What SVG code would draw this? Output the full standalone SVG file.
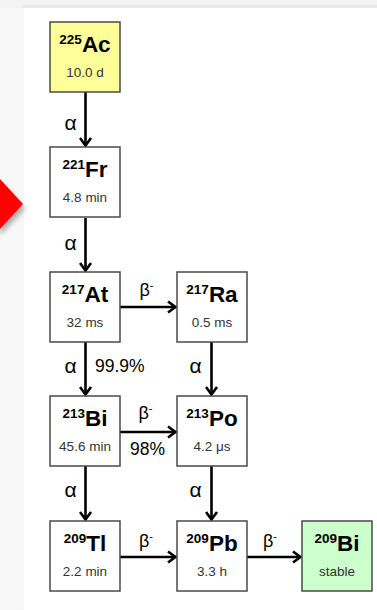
<svg xmlns="http://www.w3.org/2000/svg" width="377" height="610" viewBox="0 0 377 610">
<defs>
<style>
.box{fill:#ffffff;stroke:#4a4a4a;stroke-width:1.5}
.yellow{fill:#ffff99}
.green{fill:#ccffcc}
.sym{font-family:"Liberation Sans",Arial,sans-serif;font-weight:bold;fill:#000}
.hl{font-family:"Liberation Sans",Arial,sans-serif;font-size:13.5px;fill:#333;text-anchor:middle}
.lbl{font-family:"Liberation Sans",Arial,sans-serif;font-size:17.5px;fill:#000}
.beta{font-family:"Liberation Sans",Arial,sans-serif;font-size:18px;fill:#000}
.alpha{font-family:"Liberation Sans",Arial,sans-serif;font-size:21px;fill:#000;text-anchor:middle}
.conn{stroke:#000;stroke-width:2.6;fill:none}
</style>
<marker id="ah" markerUnits="userSpaceOnUse" markerWidth="12" markerHeight="14" viewBox="0 0 12 14" refX="9" refY="7" orient="auto">
<path d="M1.5,1.5 L9,7 L1.5,12.5" fill="none" stroke="#000" stroke-width="2.6" stroke-linejoin="miter"/>
</marker>
<linearGradient id="lg" x1="0" y1="0" x2="1" y2="0">
<stop offset="0" stop-color="#f8f8f8"/>
<stop offset="0.7" stop-color="#f1f1f1"/>
<stop offset="1" stop-color="#e6e6e6"/>
</linearGradient>
<filter id="sh" x="-50%" y="-50%" width="200%" height="200%">
<feGaussianBlur stdDeviation="2.5"/>
</filter>
</defs>
<rect x="0" y="0" width="377" height="610" fill="url(#lg)"/>
<rect x="0" y="0" width="377" height="8" fill="#f3f3f3"/>
<rect x="22" y="5" width="355" height="3" fill="#e9e9e9"/>
<rect x="24" y="8" width="353" height="602" fill="#ffffff"/>
<polygon points="0,183 25,209 0,235" fill="#777" opacity="0.6" filter="url(#sh)"/>
<polygon points="0,179 23,204 0,229" fill="#ff0000"/>

<g id="connectors">
<line class="conn" x1="85.5" y1="92" x2="85.5" y2="145.5" marker-end="url(#ah)"/>
<line class="conn" x1="85.5" y1="218" x2="85.5" y2="270.5" marker-end="url(#ah)"/>
<line class="conn" x1="85.5" y1="342" x2="85.5" y2="394.5" marker-end="url(#ah)"/>
<line class="conn" x1="85.5" y1="466" x2="85.5" y2="519.5" marker-end="url(#ah)"/>
<line class="conn" x1="211.5" y1="342" x2="211.5" y2="394.5" marker-end="url(#ah)"/>
<line class="conn" x1="211.5" y1="466" x2="211.5" y2="519.5" marker-end="url(#ah)"/>
<line class="conn" x1="120" y1="307" x2="175.5" y2="307" marker-end="url(#ah)"/>
<line class="conn" x1="120" y1="432" x2="175.5" y2="432" marker-end="url(#ah)"/>
<line class="conn" x1="120" y1="557" x2="175.5" y2="557" marker-end="url(#ah)"/>
<line class="conn" x1="247" y1="557" x2="300.5" y2="557" marker-end="url(#ah)"/>
<text class="alpha" x="70.5" y="130">α</text>
<text class="alpha" x="70.5" y="250">α</text>
<text class="alpha" x="70.5" y="373">α</text>
<text class="alpha" x="70.5" y="497">α</text>
<text class="alpha" x="195.5" y="373">α</text>
<text class="alpha" x="195.5" y="497">α</text>
<text class="lbl" x="95" y="372">99.9%</text>
<text class="lbl" x="147.5" y="455" text-anchor="middle">98%</text>
<text class="beta" x="139.5" y="296">β<tspan font-size="11" dy="-7">-</tspan></text>
<text class="beta" x="138.5" y="419">β<tspan font-size="11" dy="-7">-</tspan></text>
<text class="beta" x="139" y="547">β<tspan font-size="11" dy="-7">-</tspan></text>
<text class="beta" x="263" y="547">β<tspan font-size="11" dy="-7">-</tspan></text>
</g>

<g id="Ac225">
<rect class="box yellow" x="50" y="22" width="70" height="70"/>
<text class="sym" x="85" y="52" text-anchor="middle"><tspan font-size="13.5" dy="-8">225</tspan><tspan font-size="22.5" dy="8">Ac</tspan></text>
<text class="hl" x="85" y="76.5">10.0 d</text>
</g>
<g id="Fr221">
<rect class="box" x="50" y="147" width="70" height="70"/>
<text class="sym" x="85" y="177" text-anchor="middle"><tspan font-size="13.5" dy="-8">221</tspan><tspan font-size="22.5" dy="8">Fr</tspan></text>
<text class="hl" x="85" y="201.5">4.8 min</text>
</g>
<g id="At217">
<rect class="box" x="50" y="272" width="70" height="70"/>
<text class="sym" x="85" y="302" text-anchor="middle"><tspan font-size="13.5" dy="-8">217</tspan><tspan font-size="22.5" dy="8">At</tspan></text>
<text class="hl" x="85" y="326.5">32 ms</text>
</g>
<g id="Ra217">
<rect class="box" x="177" y="272" width="70" height="70"/>
<text class="sym" x="212" y="302" text-anchor="middle"><tspan font-size="13.5" dy="-8">217</tspan><tspan font-size="22.5" dy="8">Ra</tspan></text>
<text class="hl" x="212" y="326.5">0.5 ms</text>
</g>
<g id="Bi213">
<rect class="box" x="50" y="396" width="70" height="70"/>
<text class="sym" x="85" y="426" text-anchor="middle"><tspan font-size="13.5" dy="-8">213</tspan><tspan font-size="22.5" dy="8">Bi</tspan></text>
<text class="hl" x="85" y="450.5">45.6 min</text>
</g>
<g id="Po213">
<rect class="box" x="177" y="396" width="70" height="70"/>
<text class="sym" x="212" y="426" text-anchor="middle"><tspan font-size="13.5" dy="-8">213</tspan><tspan font-size="22.5" dy="8">Po</tspan></text>
<text class="hl" x="212" y="450.5">4.2 μs</text>
</g>
<g id="Tl209">
<rect class="box" x="50" y="521" width="70" height="70"/>
<text class="sym" x="85" y="551" text-anchor="middle"><tspan font-size="13.5" dy="-8">209</tspan><tspan font-size="22.5" dy="8">Tl</tspan></text>
<text class="hl" x="85" y="575.5">2.2 min</text>
</g>
<g id="Pb209">
<rect class="box" x="177" y="521" width="70" height="70"/>
<text class="sym" x="212" y="551" text-anchor="middle"><tspan font-size="13.5" dy="-8">209</tspan><tspan font-size="22.5" dy="8">Pb</tspan></text>
<text class="hl" x="212" y="575.5">3.3 h</text>
</g>
<g id="Bi209">
<rect class="box green" x="302" y="521" width="70" height="70"/>
<text class="sym" x="337" y="551" text-anchor="middle"><tspan font-size="13.5" dy="-8">209</tspan><tspan font-size="22.5" dy="8">Bi</tspan></text>
<text class="hl" x="337" y="575.5">stable</text>
</g>
</svg>
